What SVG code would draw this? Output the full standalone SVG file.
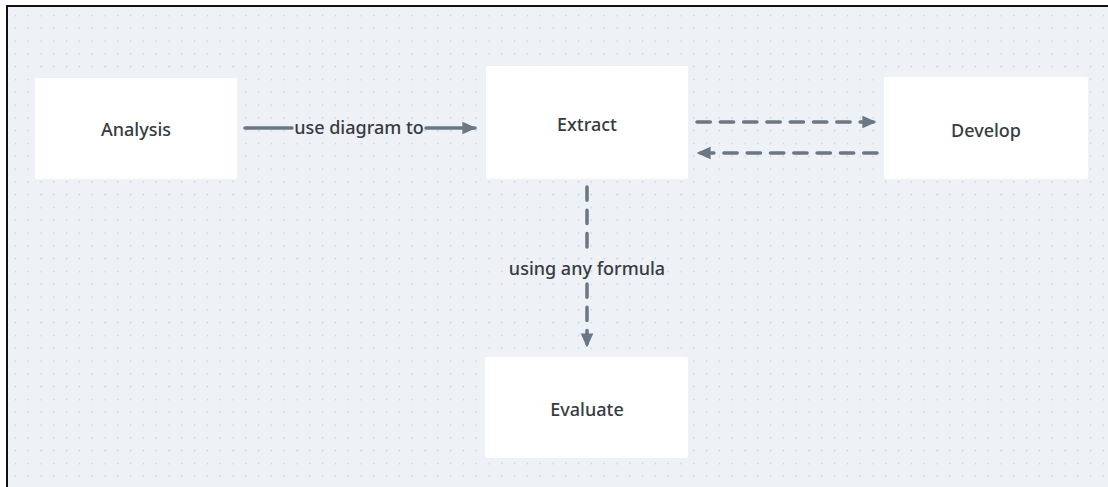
<svg xmlns="http://www.w3.org/2000/svg" width="1108" height="487" viewBox="0 0 1108 487">
  <defs>
    <pattern id="dots" x="9" y="9" width="12.8" height="12.8" patternUnits="userSpaceOnUse">
      <circle cx="6.4" cy="6.4" r="0.9" fill="#cfd4da"/>
    </pattern>
    <marker id="arrow" viewBox="0 0 10 10" refX="9" refY="5" markerWidth="4" markerHeight="4" orient="auto" markerUnits="strokeWidth">
      <path d="M0,0.5 L10,5 L0,9.5 Z" fill="#6b7785"/>
    </marker>
    <style>
      .node rect { fill: #ffffff; }
      .node text, .label { font-family: "Noto Sans", "DejaVu Sans", sans-serif; font-size: 18px; font-weight: 500; fill: #363b42; text-anchor: middle; dominant-baseline: central; }
      .edge { stroke: #6b7785; stroke-width: 3.5; fill: none; stroke-linecap: round; }
      .dash { stroke-dasharray: 13.3 10; }
    </style>
  </defs>

  <!-- canvas -->
  <rect x="0" y="0" width="1108" height="487" fill="#ffffff"/>
  <rect x="7" y="6" width="1101" height="481" fill="#eef1f5"/>
  <rect x="7" y="6" width="1101" height="481" fill="url(#dots)"/>
  <path d="M7,487 V6 H1108" stroke="#111111" stroke-width="2" fill="none"/>

  <!-- nodes -->
  <g id="analysis" class="node">
    <rect x="35" y="78" width="202" height="101" rx="2"/>
    <text x="136" y="129">Analysis</text>
  </g>
  <g id="extract" class="node">
    <rect x="486" y="66" width="202" height="113" rx="2"/>
    <text x="587" y="124">Extract</text>
  </g>
  <g id="develop" class="node">
    <rect x="884" y="77" width="204" height="102" rx="2"/>
    <text x="986" y="130">Develop</text>
  </g>
  <g id="evaluate" class="node">
    <rect x="485" y="357" width="203" height="101" rx="2"/>
    <text x="587" y="409">Evaluate</text>
  </g>

  <!-- connectors -->
  <g id="connectors">
    <path class="edge" d="M245,128 H292"/>
    <path class="edge" d="M426,128 H475" marker-end="url(#arrow)"/>
    <text class="label" x="359" y="127">use diagram to</text>

    <path class="edge dash" d="M697,122 H875" marker-end="url(#arrow)"/>
    <path class="edge dash" d="M877,153 H698" marker-end="url(#arrow)"/>

    <path class="edge dash" d="M587,187 V250"/>
    <path class="edge dash" d="M587,284 V346" marker-end="url(#arrow)"/>
    <text class="label" x="587" y="268">using any formula</text>
  </g>
</svg>
